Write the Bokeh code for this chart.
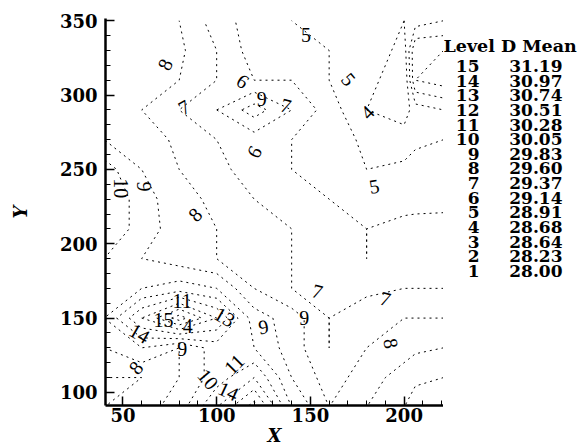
import numpy as np
from bokeh.plotting import figure
from bokeh.layouts import row
from bokeh.models import SingleIntervalTicker, ColumnDataSource, Range1d
from bokeh.embed import file_html
from bokeh.resources import INLINE
from bokeh.core.properties import value

# ---- data ----
level_numbers = [15, 14, 13, 12, 11, 10, 9, 8, 7, 6, 5, 4, 3, 2, 1]
level_d_mean = ["31.19", "30.97", "30.74", "30.51", "30.28", "30.05", "29.83",
                "29.60", "29.37", "29.14", "28.91", "28.68", "28.64", "28.23", "28.00"]

grid_x = [40, 60, 80, 100, 120, 140, 160, 180, 200, 206, 221]
grid_y = [90, 110, 130, 150, 170, 190, 210, 230, 250, 270, 290, 310, 330, 350]
# estimated field, in contour-level units, one row per grid_y
level_grid = [
    [8, 8.5, 9.5, 12, 14.5, 10, 8, 9, 10, 10.5, 11],
    [8, 8, 9, 10.5, 12, 9, 7.5, 8.5, 9.5, 9.8, 10],
    [9, 10, 9, 10.5, 10, 8.5, 7, 8, 8.5, 8.8, 9],
    [10, 13, 15.5, 13, 9.5, 8.5, 7, 7.5, 8, 8, 8],
    [9, 10, 10.5, 10, 8, 7, 6.8, 6.8, 7, 7, 7],
    [10, 9, 8.5, 8, 7.5, 7, 6.5, 6, 6.5, 6.6, 6.8],
    [11, 9.5, 8.5, 8, 7.5, 7, 6.5, 6, 6.4, 6.5, 6.6],
    [11, 9.5, 8.3, 7.8, 7, 6.5, 6, 5.5, 5.5, 5.5, 5.5],
    [10.5, 9, 8, 7.5, 6.2, 6, 5.5, 5, 5.2, 5.4, 5.5],
    [9, 8.5, 7.8, 7, 6.5, 6, 5.5, 4.8, 4.5, 4.8, 5],
    [8.5, 8, 7, 7, 8.5, 7, 5.5, 4, 3.5, 4.5, 5],
    [8, 8.5, 8, 7, 6, 6, 5, 4.5, 3, 7, 7.5],
    [8, 8.5, 8.2, 7, 5.5, 5.5, 5, 5, 3.5, 7, 7],
    [8, 8.3, 8, 6.5, 5.5, 5, 4.8, 5, 4, 4.5, 5],
]

# contour labels as printed on the chart
label_text = ["5", "8", "6", "9", "7", "7", "5", "4", "6", "10", "9", "8", "5",
              "11", "15", "4", "13", "9", "9", "7", "7", "8", "14", "9", "8",
              "10", "11", "14"]
label_x = [147.7, 72.5, 114, 124, 136.9, 82.6, 170.4, 180.3, 120, 49, 61, 88.5, 184,
           81.6, 71.7, 84.6, 104.3, 125, 146.7, 153.7, 190, 193, 58.9, 81.6, 56.9,
           95.4, 109.3, 106.3]
label_y = [340.5, 320.5, 309.4, 297.3, 293, 291.8, 310.6, 288.4, 261.8, 237.4, 238.5,
           219.7, 238.6, 161.7, 149, 145, 150.8, 144.2, 150.2, 168, 163, 133, 139.7,
           129.3, 116.6, 108.9, 118.9, 100.8]
label_angle = [0, 65, -35, 0, -15, 30, -50, 45, 60, -90, -90, 45, 10,
               0, 0, 0, -30, 10, 0, -15, -15, -80, -30, 0, 50,
               -50, 45, -25]

# ---- main contour plot ----
p = figure(width=443, height=448, output_backend="svg", toolbar_location=None,
           x_range=Range1d(40.7, 221.0), y_range=Range1d(91.2, 351.5),
           min_border_left=105, min_border_right=0, min_border_top=18,
           min_border_bottom=38)
p.outline_line_color = None
p.grid.visible = False
p.background_fill_color = "white"

levels = sorted(level_numbers)
p.contour(x=grid_x, y=grid_y, z=np.array(level_grid), levels=levels,
          line_color="black", line_width=1, line_dash="2 4")

src = ColumnDataSource(dict(x=label_x, y=label_y, t=label_text, a=label_angle))
p.text(x="x", y="y", text="t", angle="a", angle_units="deg", source=src,
       text_align="center", text_baseline="middle",
       text_font=value("Liberation Serif"), text_font_size="20px",
       text_color="black")

for ax in (p.xaxis, p.yaxis):
    ax.ticker = SingleIntervalTicker(interval=50, num_minor_ticks=5)
    ax.axis_line_width = 2.5
    ax.axis_line_color = "black"
    ax.major_tick_in = 9
    ax.major_tick_out = 0
    ax.minor_tick_in = 5
    ax.minor_tick_out = 0
    ax.major_tick_line_width = 1.5
    ax.major_tick_line_color = "black"
    ax.minor_tick_line_color = "black"
    ax.major_label_text_font = "DejaVu Serif"
    ax.major_label_text_font_style = "bold"
    ax.major_label_text_font_size = "18px"
    ax.major_label_text_color = "black"
    ax.axis_label_text_font = "DejaVu Serif"
    ax.axis_label_text_font_style = "bold italic"
    ax.axis_label_text_font_size = "18px"
    ax.axis_label_text_color = "black"
p.xaxis.axis_label = "X"
p.yaxis.axis_label = "Y"
p.xaxis.major_label_standoff = 2
p.xaxis.axis_label_standoff = 0
p.yaxis.major_label_standoff = 8
p.yaxis.axis_label_standoff = 26

# ---- legend panel ----
q = figure(width=138, height=448, output_backend="svg", toolbar_location=None,
           x_range=Range1d(0, 138), y_range=Range1d(448, 0),
           min_border=0)
q.axis.visible = False
q.grid.visible = False
q.outline_line_color = None

q.text(x=[0], y=[31.7], text=["Level D Mean"], text_align="left",
       text_baseline="middle", text_font=value("DejaVu Serif"),
       text_font_style="bold", text_font_size="17.5px", text_color="black")
rows_y = [55 + 16.93 * i for i in range(len(level_numbers))]
q.text(x=[36] * len(level_numbers), y=rows_y, text=[str(n) for n in level_numbers],
       text_align="right", text_baseline="middle", text_font=value("DejaVu Serif"),
       text_font_style="bold", text_font_size="17px", text_color="black")
q.text(x=[119] * len(level_numbers), y=rows_y, text=level_d_mean,
       text_align="right", text_baseline="middle", text_font=value("DejaVu Serif"),
       text_font_style="bold", text_font_size="17px", text_color="black")

layout = row(p, q)
open("out.html", "w").write(file_html(layout, INLINE))
